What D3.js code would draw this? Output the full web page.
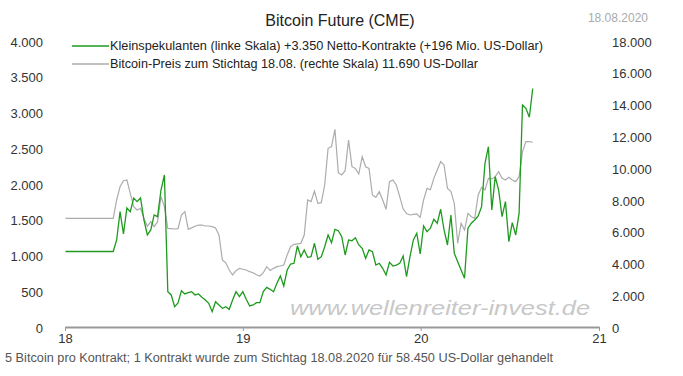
<!DOCTYPE html>
<html>
<head>
<meta charset="utf-8">
<script src="https://cdn.jsdelivr.net/npm/d3@7"></script>
<style>
  body { margin: 0; background: #fff; }
  svg text { font-family: "Liberation Sans", Arial, sans-serif; }
</style>
</head>
<body>
<svg id="chart" width="683" height="376"></svg>
<script>
// weekly COT data, first report 02.01.2018, last 18.08.2020
const firstReport = new Date(2018, 0, 2);

// Kleinspekulanten, netto Kontrakte (linke Skala)
const smallSpecs = [
  1070, 1070, 1070, 1070, 1070, 1070, 1070, 1070, 1070, 1070, 1070, 1070, 1070, 1070, 1070,
  1231, 1627, 1315, 1678, 1627, 1818, 1767, 1818, 1511, 1301, 1371, 1581, 1557, 1930, 2140,
  508, 462, 298, 350, 522, 476, 494, 508, 462, 476, 429, 392, 345, 228, 368, 322, 275, 298,
  261, 392, 508, 438, 508, 401, 308, 322, 354, 354, 508, 569, 541, 508, 625, 727, 588, 811,
  895, 905, 1147, 997, 1091, 989, 997, 1185, 961, 997, 1137, 1301, 1193, 1380, 1361, 1277,
  1021, 1231, 1221, 1263, 1161, 1115, 975, 1091, 1067, 881, 905, 835, 741, 919, 867, 880,
  905, 1007, 718, 997, 1231, 1325, 1035, 1427, 1347, 1395, 1521, 1465, 1661, 1371, 1161,
  1581, 1045, 928, 811, 695, 1395, 1465, 1511, 1567, 1697, 2304, 2536, 1651, 2117, 1930,
  1557, 1767, 1207, 1473, 1301, 1604, 3120, 3073, 2947, 3350
];

// Bitcoin-Preis in US-Dollar (rechte Skala)
const btcPrice = [
  6900, 6900, 6900, 6900, 6900, 6900, 6900, 6900, 6900, 6900, 6900, 6900, 6900, 6900, 6900,
  8056, 8895, 9273, 9315, 8476, 7637, 7427, 7532, 6904, 6400, 6700, 6380, 6690, 8266, 7637,
  6273, 6250, 6231, 6250, 7112, 7322, 6210,
  6300, 6400, 6480, 6480, 6420, 6420, 6378, 6300,
  5853, 4280, 4100, 3650, 3336, 3608, 3755, 3700, 3650, 3545, 3480, 3350, 3273, 3480, 3860,
  3620, 3755, 3860, 3902, 3965, 4600, 5119, 5266, 5300, 5329, 5853,
  8056, 7952, 8623, 7846, 7888, 9000, 11310, 11415, 12507, 9777, 9630, 9903, 11833, 10152,
  10047, 9693, 10782, 10152, 10047, 8371, 8224, 8580, 8056, 7469, 9210, 9315, 9000, 8266,
  7500, 7200, 7112, 7150, 7175, 6966,
  8056, 8790, 8700, 9420, 9944, 10468, 10258, 8790, 8600, 7846, 5329, 6588, 6168, 7217,
  7007, 6903, 8371, 8853, 8685, 9420, 9380, 9525, 9840, 9420, 9315, 9480, 9315, 9210, 9525,
  11100, 11730, 11730, 11690
];

const leftTicks = [0, 500, 1000, 1500, 2000, 2500, 3000, 3500, 4000];
const rightTicks = [0, 2000, 4000, 6000, 8000, 10000, 12000, 14000, 16000, 18000];
const yearTicks = [new Date(2018, 0, 1), new Date(2019, 0, 1), new Date(2020, 0, 1), new Date(2021, 0, 1)];

const titleText = "Bitcoin Future (CME)";
const dateText = "18.08.2020";
const legendLabels = [
  "Kleinspekulanten (linke Skala) +3.350 Netto-Kontrakte (+196 Mio. US-Dollar)",
  "Bitcoin-Preis zum Stichtag 18.08. (rechte Skala) 11.690 US-Dollar"
];
const footerText = "5 Bitcoin pro Kontrakt; 1 Kontrakt wurde zum Stichtag 18.08.2020 für 58.450 US-Dollar gehandelt";
const watermarkText = "www.wellenreiter-invest.de";

const de = d3.formatLocale({ decimal: ",", thousands: ".", grouping: [3], currency: ["", " €"] });
const fmt = de.format(",");

const green = "#1e9a1e",
    grey = "#acacac";

const svg = d3.select("#chart");

const x = d3.scaleTime()
    .domain([yearTicks[0], yearTicks[3]])
    .range([65, 599]);
const yL = d3.scaleLinear().domain([0, 4000]).range([328, 42]);
const yR = d3.scaleLinear().domain([0, 18000]).range([328, 42]);

const rows = smallSpecs.map((v, i) => ({
    date: d3.timeWeek.offset(firstReport, i),
    specs: v,
    price: btcPrice[i]
}));

// watermark behind the lines
svg.append("text")
    .attr("x", 290).attr("y", 315)
    .attr("textLength", 300).attr("lengthAdjust", "spacingAndGlyphs")
    .style("font-size", "21px").style("font-style", "italic")
    .style("fill", "#c8c8c8")
    .text(watermarkText);

// axes
const styleAxis = g => {
    g.selectAll("text").style("font-size", "13px").style("fill", "#333");
};

svg.append("g")
    .attr("transform", "translate(46,0)")
    .call(d3.axisLeft(yL).tickValues(leftTicks).tickFormat(fmt).tickSize(0).tickPadding(3))
    .call(g => g.select(".domain").remove())
    .call(styleAxis);

svg.append("g")
    .attr("transform", "translate(609,0)")
    .call(d3.axisRight(yR).tickValues(rightTicks).tickFormat(fmt).tickSize(0).tickPadding(3))
    .call(g => g.select(".domain").remove())
    .call(styleAxis);

svg.append("g")
    .attr("transform", "translate(0,327)")
    .call(d3.axisBottom(x).tickValues(yearTicks).tickFormat(d3.timeFormat("%y")).tickSize(4).tickSizeOuter(0).tickPadding(3))
    .call(g => g.select(".domain").attr("stroke", "#999").attr("stroke-width", 2))
    .call(g => g.selectAll(".tick line").attr("stroke", "#999"))
    .call(styleAxis);

// lines
const priceLine = d3.line().x(d => x(d.date)).y(d => yR(d.price));
const specsLine = d3.line().x(d => x(d.date)).y(d => yL(d.specs));

svg.append("path").datum(rows)
    .attr("d", priceLine)
    .attr("fill", "none").attr("stroke", grey).attr("stroke-width", 1.2);

svg.append("path").datum(rows)
    .attr("d", specsLine)
    .attr("fill", "none").attr("stroke", green).attr("stroke-width", 1.3);

// title + date
svg.append("text")
    .attr("x", 340).attr("y", 26).attr("text-anchor", "middle")
    .style("font-size", "16px").style("fill", "#222")
    .text(titleText);

svg.append("text")
    .attr("x", 648).attr("y", 22).attr("text-anchor", "end")
    .style("font-size", "12px").style("fill", "#aaa")
    .text(dateText);

// legend
const legend = svg.append("g");
const legendColors = [green, grey];
const legendWidths = [433, 368];
legendLabels.forEach((label, i) => {
    const ly = 46 + i * 18;
    legend.append("line")
        .attr("x1", 72).attr("x2", 109).attr("y1", ly).attr("y2", ly)
        .attr("stroke", legendColors[i]).attr("stroke-width", 1.3);
    legend.append("text")
        .attr("x", 110).attr("y", ly + 4)
        .attr("textLength", legendWidths[i]).attr("lengthAdjust", "spacingAndGlyphs")
        .style("font-size", "12px").style("fill", "#222")
        .text(label);
});

// footer
svg.append("text")
    .attr("x", 5).attr("y", 362)
    .attr("textLength", 548).attr("lengthAdjust", "spacingAndGlyphs")
    .style("font-size", "12px").style("fill", "#555")
    .text(footerText);
</script>
</body>
</html>
